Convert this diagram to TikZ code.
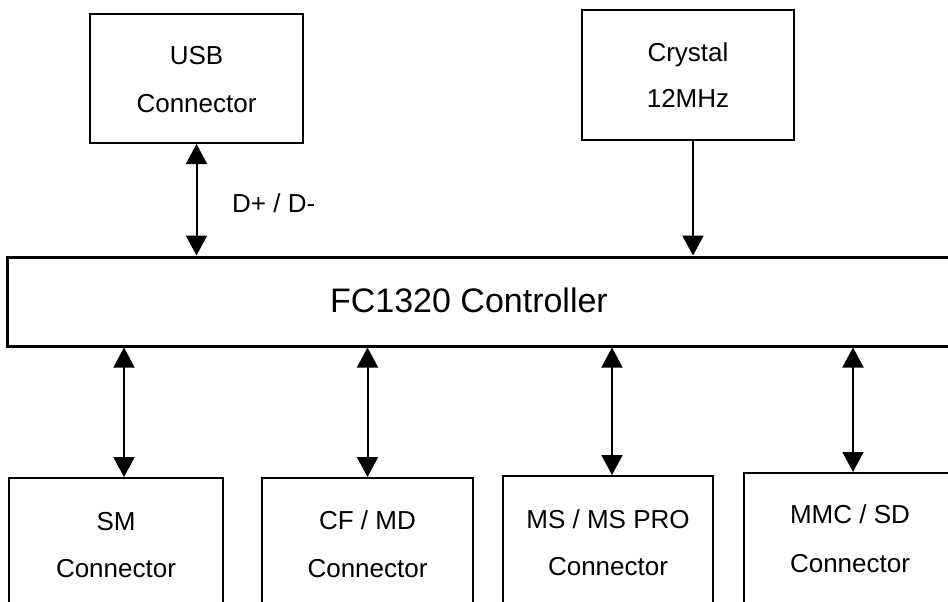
\documentclass[tikz,border=0pt]{standalone}
\usepackage{fontspec}
\setmainfont{Liberation Sans}
\usetikzlibrary{arrows.meta}
\tikzset{
  box/.style={draw, line width=2pt, inner sep=0pt, fill=none},
  bigbox/.style={draw, line width=3pt, inner sep=0pt},
  txt/.style={anchor=base, inner sep=0pt, font=\fontsize{26}{30}\selectfont},
  bigtxt/.style={anchor=base, inner sep=0pt, font=\fontsize{34}{40}\selectfont},
  link/.style={line width=2pt, -{Triangle[length=20pt,width=21pt]}},
  dlink/.style={line width=2pt, {Triangle[length=20pt,width=21pt]}-{Triangle[length=20pt,width=21pt]}}
}
\begin{document}
\begin{tikzpicture}[x=1pt,y=-1pt]
\useasboundingbox (0,0) rectangle (948,602);
\clip (0,0) rectangle (948,602);
\fill[white] (0,0) rectangle (948,602);
% top boxes
\node[box, minimum width=213pt, minimum height=129pt] (usb) at (196.5,78.5) {};
\node[txt] (usbt1) at (196.5,65) {USB};
\node[txt] (usbt2) at (196.5,113) {Connector};
\node[box, minimum width=212pt, minimum height=130pt] (xtal) at (688,75) {};
\node[txt] (xtalt1) at (688,62) {Crystal};
\node[txt] (xtalt2) at (688,107) {12MHz};
% controller
\node[bigbox, minimum width=1000pt, minimum height=89pt] (ctrl) at (507,301.5) {};
\node[bigtxt] (ctrlt) at (469,312) {FC1320 Controller};
% bottom boxes (run past the lower edge)
\node[box, minimum width=214pt, minimum height=200pt] (sm) at (116,578) {};
\node[txt] (smt1) at (116,530) {SM};
\node[txt] (smt2) at (116,577) {Connector};
\node[box, minimum width=211pt, minimum height=200pt] (cf) at (367.5,578) {};
\node[txt] (cft1) at (367.5,529) {CF / MD};
\node[txt] (cft2) at (367.5,577) {Connector};
\node[box, minimum width=210pt, minimum height=200pt] (ms) at (608,576) {};
\node[txt] (mst1) at (608,528) {MS / MS PRO};
\node[txt] (mst2) at (608,575) {Connector};
\node[box, minimum width=260pt, minimum height=200pt] (mmc) at (874,573) {};
\node[txt] (mmct1) at (850,523) {MMC / SD};
\node[txt] (mmct2) at (850,572) {Connector};
% connectors
\draw[dlink] (usb.south) -- (usb.south |- ctrl.north);
\node[txt, anchor=base west] (dlab) at (232,212) {D+ / D-};
\coordinate (xa) at ([xshift=5pt]xtal.south);
\draw[link] (xa) -- (xa |- ctrl.north);
\coordinate (sa) at ([xshift=8pt]sm.north);
\draw[dlink] (sa |- ctrl.south) -- (sa);
\coordinate (ca) at (cf.north);
\draw[dlink] (ca |- ctrl.south) -- (ca);
\coordinate (ma) at ([xshift=4pt]ms.north);
\draw[dlink] (ma |- ctrl.south) -- (ma);
\coordinate (mma) at ([xshift=-21pt]mmc.north);
\draw[dlink] (mma |- ctrl.south) -- (mma);
\end{tikzpicture}
\end{document}
